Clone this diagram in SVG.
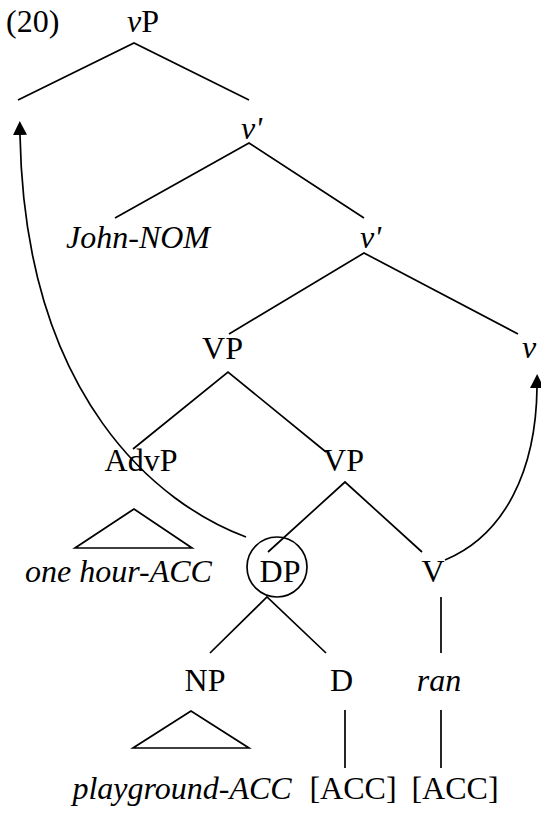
<svg xmlns="http://www.w3.org/2000/svg" width="541" height="813" viewBox="0 0 541 813">
<defs>
<style>
.t text{font-size:32px;fill:#000}
.i{font-style:italic}
.m{text-anchor:middle}
.e{stroke:#000;stroke-width:1.7;fill:none}
</style>
<marker id="ah" markerUnits="userSpaceOnUse" markerWidth="16" markerHeight="16" refX="0" refY="7" orient="auto" viewBox="0 0 16 16">
<path d="M0,0 L14,7 L0,14 z" fill="#000"/>
</marker>
</defs>
<rect width="541" height="813" fill="#fff"/>
<g class="t" font-family="'Liberation Serif', 'Times New Roman', serif">
<g id="label"><text x="6" y="32">(20)</text></g>
<g id="vP"><text x="127" y="32"><tspan class="i">v</tspan>P</text></g>
<g id="vbar1"><text class="i" x="241" y="139">v'</text></g>
<g id="john"><text class="i m" x="138" y="248">John-NOM</text></g>
<g id="vbar2"><text class="i" x="360" y="248">v'</text></g>
<g id="VP1"><text class="m" x="222.5" y="359">VP</text></g>
<g id="v"><text class="i" x="522" y="358">v</text></g>
<g id="AdvP"><text class="m" x="141" y="471">AdvP</text></g>
<g id="VP2"><text class="m" x="343.5" y="471">VP</text></g>
<g id="onehour"><text class="i m" x="118.5" y="582">one hour-ACC</text></g>
<g id="DP"><circle cx="277" cy="567" r="30" class="e"/><text class="m" x="280" y="582">DP</text></g>
<g id="V"><text class="m" x="433" y="582">V</text></g>
<g id="NP"><text class="m" x="205" y="691">NP</text></g>
<g id="D"><text class="m" x="341.5" y="691">D</text></g>
<g id="ran"><text class="i m" x="439" y="691">ran</text></g>
<g id="playground"><text class="i m" x="182" y="799">playground-ACC</text></g>
<g id="acc1"><text class="m" x="353" y="799">[ACC]</text></g>
<g id="acc2"><text class="m" x="455" y="799">[ACC]</text></g>
</g>
<g id="connectors">
<path class="e" d="M18,100 L134,43 L249,100"/>
<path class="e" d="M115,218 L249,143 L364,218"/>
<path class="e" d="M229,334 L364,253 L518,334"/>
<path class="e" d="M133,449 L228,372 L326,452"/>
<path class="e" d="M268,552 L345,482 L422,552"/>
<path class="e" d="M210,653 L267,597 L326,653"/>
<path class="e" d="M441,597 L441,653"/>
<path class="e" d="M191,711 L133,748 L249,748 Z"/>
<path class="e" d="M134,509 L75,548 L192,548 Z"/>
<path class="e" d="M345,710 L345,768"/>
<path class="e" d="M441,710 L441,768"/>
<path class="e" d="M246,537 C160,505 25,400 20,135" marker-end="url(#ah)"/>
<path class="e" d="M445,560 C505,535 536,470 537,388" marker-end="url(#ah)"/>
</g>
</svg>
